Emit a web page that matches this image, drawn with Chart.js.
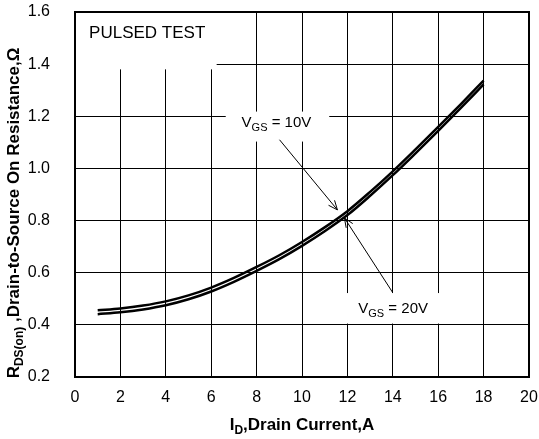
<!DOCTYPE html>
<html>
<head>
<meta charset="utf-8">
<script src="https://cdn.jsdelivr.net/npm/chart.js@4/dist/chart.umd.min.js"></script>
<style>
  body { margin: 0; background: #fff; }
  #wrap { width: 539px; height: 439px; }
</style>
</head>
<body>
<div id="wrap"><canvas id="myChart"></canvas></div>
<script>
// drain current, A
const corriente = [1, 2, 3, 4, 5, 6, 7, 8, 9, 10, 11, 12, 13, 14, 15, 16, 17, 18];
// RDS(on) for VGS = 10V (upper curve)
const rds10 = [0.456, 0.463, 0.474, 0.490, 0.513, 0.543, 0.580, 0.622, 0.667, 0.718, 0.774, 0.836, 0.910, 0.989, 1.073, 1.159, 1.247, 1.337];
// RDS(on) for VGS = 20V (lower curve)
const rds20 = [0.441, 0.448, 0.459, 0.475, 0.498, 0.528, 0.565, 0.607, 0.652, 0.703, 0.759, 0.821, 0.895, 0.974, 1.058, 1.144, 1.232, 1.322];

const xTicks = [0, 2, 4, 6, 8, 10, 12, 14, 16, 18, 20];
const yTicks = [0.2, 0.4, 0.6, 0.8, 1.0, 1.2, 1.4, 1.6];

// annotation boxes / texts / arrows in data units
const cajas = [
  { x0: 0, x1: 6.24, y0: 1.38, y1: 1.6 },
  { x0: 6.64, x1: 11.2, y0: 1.103, y1: 1.218 },
  { x0: 11.4, x1: 16.6, y0: 0.405, y1: 0.522 },
];
const textos = [
  { x: 0.62, y: 1.501, size: 17, partes: [["PULSED TEST", false]] },
  { x: 7.34, y: 1.157, size: 15, partes: [["V", false], ["GS", true], [" = 10V", false]] },
  { x: 12.48, y: 0.445, size: 15, partes: [["V", false], ["GS", true], [" = 20V", false]] },
];
const flechas = [
  { x0: 9.01, y0: 1.11, x1: 11.56, y1: 0.841 },
  { x0: 13.98, y0: 0.526, x1: 11.87, y1: 0.81 },
];

const FUENTE = "'Liberation Sans', Arial, sans-serif";

const datos = (serie) => corriente.map((x, i) => ({ x: x, y: serie[i] }));

// draws text with subscripts
const escribir = (ctx, partes, x, y, size, bold) => {
  let px = x;
  partes.forEach(([t, sub]) => {
    const s = sub ? Math.round(size * 0.72) : size;
    ctx.font = (bold ? "bold " : "") + s + "px " + FUENTE;
    ctx.fillText(t, px, sub ? y + size * 0.25 : y);
    px += ctx.measureText(t).width;
  });
};

const ancho = (ctx, partes, size, bold) => {
  let w = 0;
  partes.forEach(([t, sub]) => {
    const s = sub ? Math.round(size * 0.72) : size;
    ctx.font = (bold ? "bold " : "") + s + "px " + FUENTE;
    w += ctx.measureText(t).width;
  });
  return w;
};

const anotaciones = {
  id: "anotaciones",
  beforeDatasetsDraw(chart) {
    const { ctx, scales: { x, y } } = chart;
    ctx.save();
    ctx.fillStyle = "#fff";
    cajas.forEach((c) => {
      const l = x.getPixelForValue(c.x0), r = x.getPixelForValue(c.x1);
      const t = y.getPixelForValue(c.y1), b = y.getPixelForValue(c.y0);
      ctx.fillRect(l, t, r - l, b - t);
    });
    ctx.restore();
  },
  afterDatasetsDraw(chart) {
    const { ctx, chartArea, scales: { x, y } } = chart;
    ctx.save();
    ctx.fillStyle = "#000";
    ctx.textBaseline = "alphabetic";
    textos.forEach((t) => {
      escribir(ctx, t.partes, x.getPixelForValue(t.x), y.getPixelForValue(t.y), t.size, false);
    });

    ctx.strokeStyle = "#000";
    ctx.lineWidth = 1;
    flechas.forEach((f) => {
      const ax = x.getPixelForValue(f.x0), ay = y.getPixelForValue(f.y0);
      const bx = x.getPixelForValue(f.x1), by = y.getPixelForValue(f.y1);
      const ang = Math.atan2(by - ay, bx - ax);
      ctx.beginPath();
      ctx.moveTo(ax, ay);
      ctx.lineTo(bx, by);
      ctx.moveTo(bx - 10 * Math.cos(ang - 0.4), by - 10 * Math.sin(ang - 0.4));
      ctx.lineTo(bx, by);
      ctx.lineTo(bx - 10 * Math.cos(ang + 0.4), by - 10 * Math.sin(ang + 0.4));
      ctx.stroke();
    });

    // frame
    ctx.lineWidth = 2;
    ctx.strokeRect(chartArea.left, chartArea.top, chartArea.right - chartArea.left, chartArea.bottom - chartArea.top);

    // axis titles
    const tituloX = [["I", false], ["D", true], [",Drain Current,A", false]];
    const wx = ancho(ctx, tituloX, 17, true);
    escribir(ctx, tituloX, (chartArea.left + chartArea.right) / 2 - wx / 2, 430, 17, true);

    const tituloY = [["R", false], ["DS(on)", true], [" ,Drain-to-Source On Resistance,Ω", false]];
    const wy = ancho(ctx, tituloY, 17, true);
    ctx.translate(19, 213);
    ctx.rotate(-Math.PI / 2);
    escribir(ctx, tituloY, -wy / 2, 0, 17, true);
    ctx.restore();
  },
};

const chart = document.getElementById("myChart");

const config = {
  type: "line",
  data: {
    datasets: [
      { label: "VGS = 10V", data: datos(rds10), borderColor: "#000", borderWidth: 2.5, pointRadius: 0, cubicInterpolationMode: "monotone", fill: false },
      { label: "VGS = 20V", data: datos(rds20), borderColor: "#000", borderWidth: 2.5, pointRadius: 0, cubicInterpolationMode: "monotone", fill: false },
    ],
  },
  options: {
    responsive: true,
    maintainAspectRatio: false,
    animation: false,
    layout: { padding: { top: 12, right: 10, left: 0, bottom: 0 } },
    plugins: { legend: { display: false }, tooltip: { enabled: false } },
    scales: {
      x: {
        type: "linear",
        min: 0,
        max: 20,
        afterBuildTicks: (s) => { s.ticks = xTicks.map((v) => ({ value: v })); },
        afterFit: (s) => { s.height = 62; s.paddingLeft = 0; s.paddingRight = 0; },
        grid: { color: "#000", lineWidth: 1, drawTicks: false },
        border: { display: false },
        ticks: { color: "#000", padding: 11, font: { family: FUENTE, size: 16 } },
      },
      y: {
        min: 0.2,
        max: 1.6,
        afterBuildTicks: (s) => { s.ticks = yTicks.map((v) => ({ value: v })); },
        afterFit: (s) => { s.width = 75; s.paddingTop = 0; s.paddingBottom = 0; },
        grid: { color: "#000", lineWidth: 1, drawTicks: false },
        border: { display: false },
        ticks: { color: "#000", padding: 25, font: { family: FUENTE, size: 16 }, callback: (v) => v.toFixed(1) },
      },
    },
  },
  plugins: [anotaciones],
};

const myChart = new Chart(chart, config);
</script>
</body>
</html>
